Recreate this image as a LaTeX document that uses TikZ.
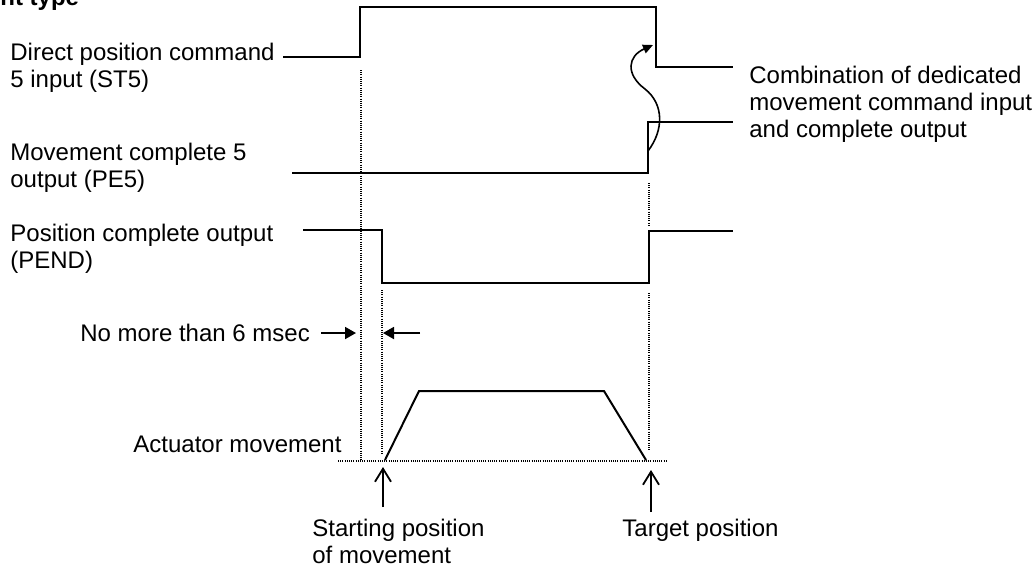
\documentclass[tikz,border=0pt]{standalone}
\usepackage{fontspec}
\setmainfont{Liberation Sans}
\usetikzlibrary{arrows.meta, positioning, calc}
\tikzset{
  lbl/.style={anchor=base west, align=left, inner sep=0pt, font=\fontsize{12}{13.5}\selectfont},
  sig/.style={line width=1pt, line join=miter},
  guide/.style={line width=0.65pt, dash pattern=on 0.5pt off 0.6pt},
  pointer/.style={line width=0.9pt, -{Triangle[length=5.5pt, width=6pt]}},
  openptr/.style={line width=0.9pt, -{Straight Barb[length=6.5pt, width=8pt]}},
  curlptr/.style={line width=0.8pt, -{Triangle[length=5pt, width=4.5pt]}}
}

\begin{document}
\begin{tikzpicture}[x=0.5pt, y=-0.5pt]
    \useasboundingbox (0,0) rectangle (1035,569);

    \node[lbl, font=\fontsize{12}{13.5}\selectfont\bfseries] (title) at (0,5) {nt type};
    \node[lbl] (st5) at (10,87) {Direct position command\\5 input (ST5)};
    \node[lbl] (pe5) at (10,187.5) {Movement complete 5\\output (PE5)};
    \node[lbl] (pend) at (10,268) {Position complete output\\(PEND)};
    \node[lbl] (msec) at (80,341) {No more than 6 msec};
    \node[lbl] (act) at (133,452) {Actuator movement};
    \node[lbl] (start) at (312,563) {Starting position\\of movement};
    \node[lbl] (target) at (622,536) {Target position};
    \node[lbl] (combo) at (749,137) {Combination of dedicated\\movement command input\\and complete output};

    % signals
    \draw[sig] (283,57) -- (360,57) -- (360,7) -- (656,7) -- (656,67) -- (733,67);
    \draw[sig] (292,173) -- (648,173) -- (648,122) -- (733,122);
    \draw[sig] (303,230) -- (381.5,230) -- (381.5,283) -- (649,283) -- (649,231) -- (733,231);
    \draw[sig] (385,460) -- (419,391) -- (604,391) -- (646,460);

    % timing guides
    \draw[guide] (361,70) -- (361,460);
    \draw[guide] (382,290) -- (382,453);
    \draw[guide] (649,183) -- (649,226);
    \draw[guide] (649,293) -- (649,450);
    \draw[guide] (338,461) -- (667,461);

    \coordinate (g1) at (356,333);
    \coordinate (g2) at (383,333);
    \coordinate (g3) at (420,333);
    \draw[pointer] (g1 -| msec.east) ++(11,0) -- (g1);
    \draw[pointer] (g3) -- (g2);

    \coordinate (s0) at (383,467);
    \coordinate (s1) at (383,507);
    \coordinate (e0) at (651,470);
    \coordinate (e1) at (651,512);
    \draw[openptr] (s1) -- (s0);
    \draw[openptr] (e1) -- (e0);

    \coordinate (c0) at (648,151);
    \coordinate (c1) at (645,89);
    \coordinate (c2) at (653,45);
    \draw[curlptr] (c0) .. controls (664,130) and (664,104) .. (c1)
        .. controls (625,74) and (628,56) .. (c2);
\end{tikzpicture}
\end{document}
